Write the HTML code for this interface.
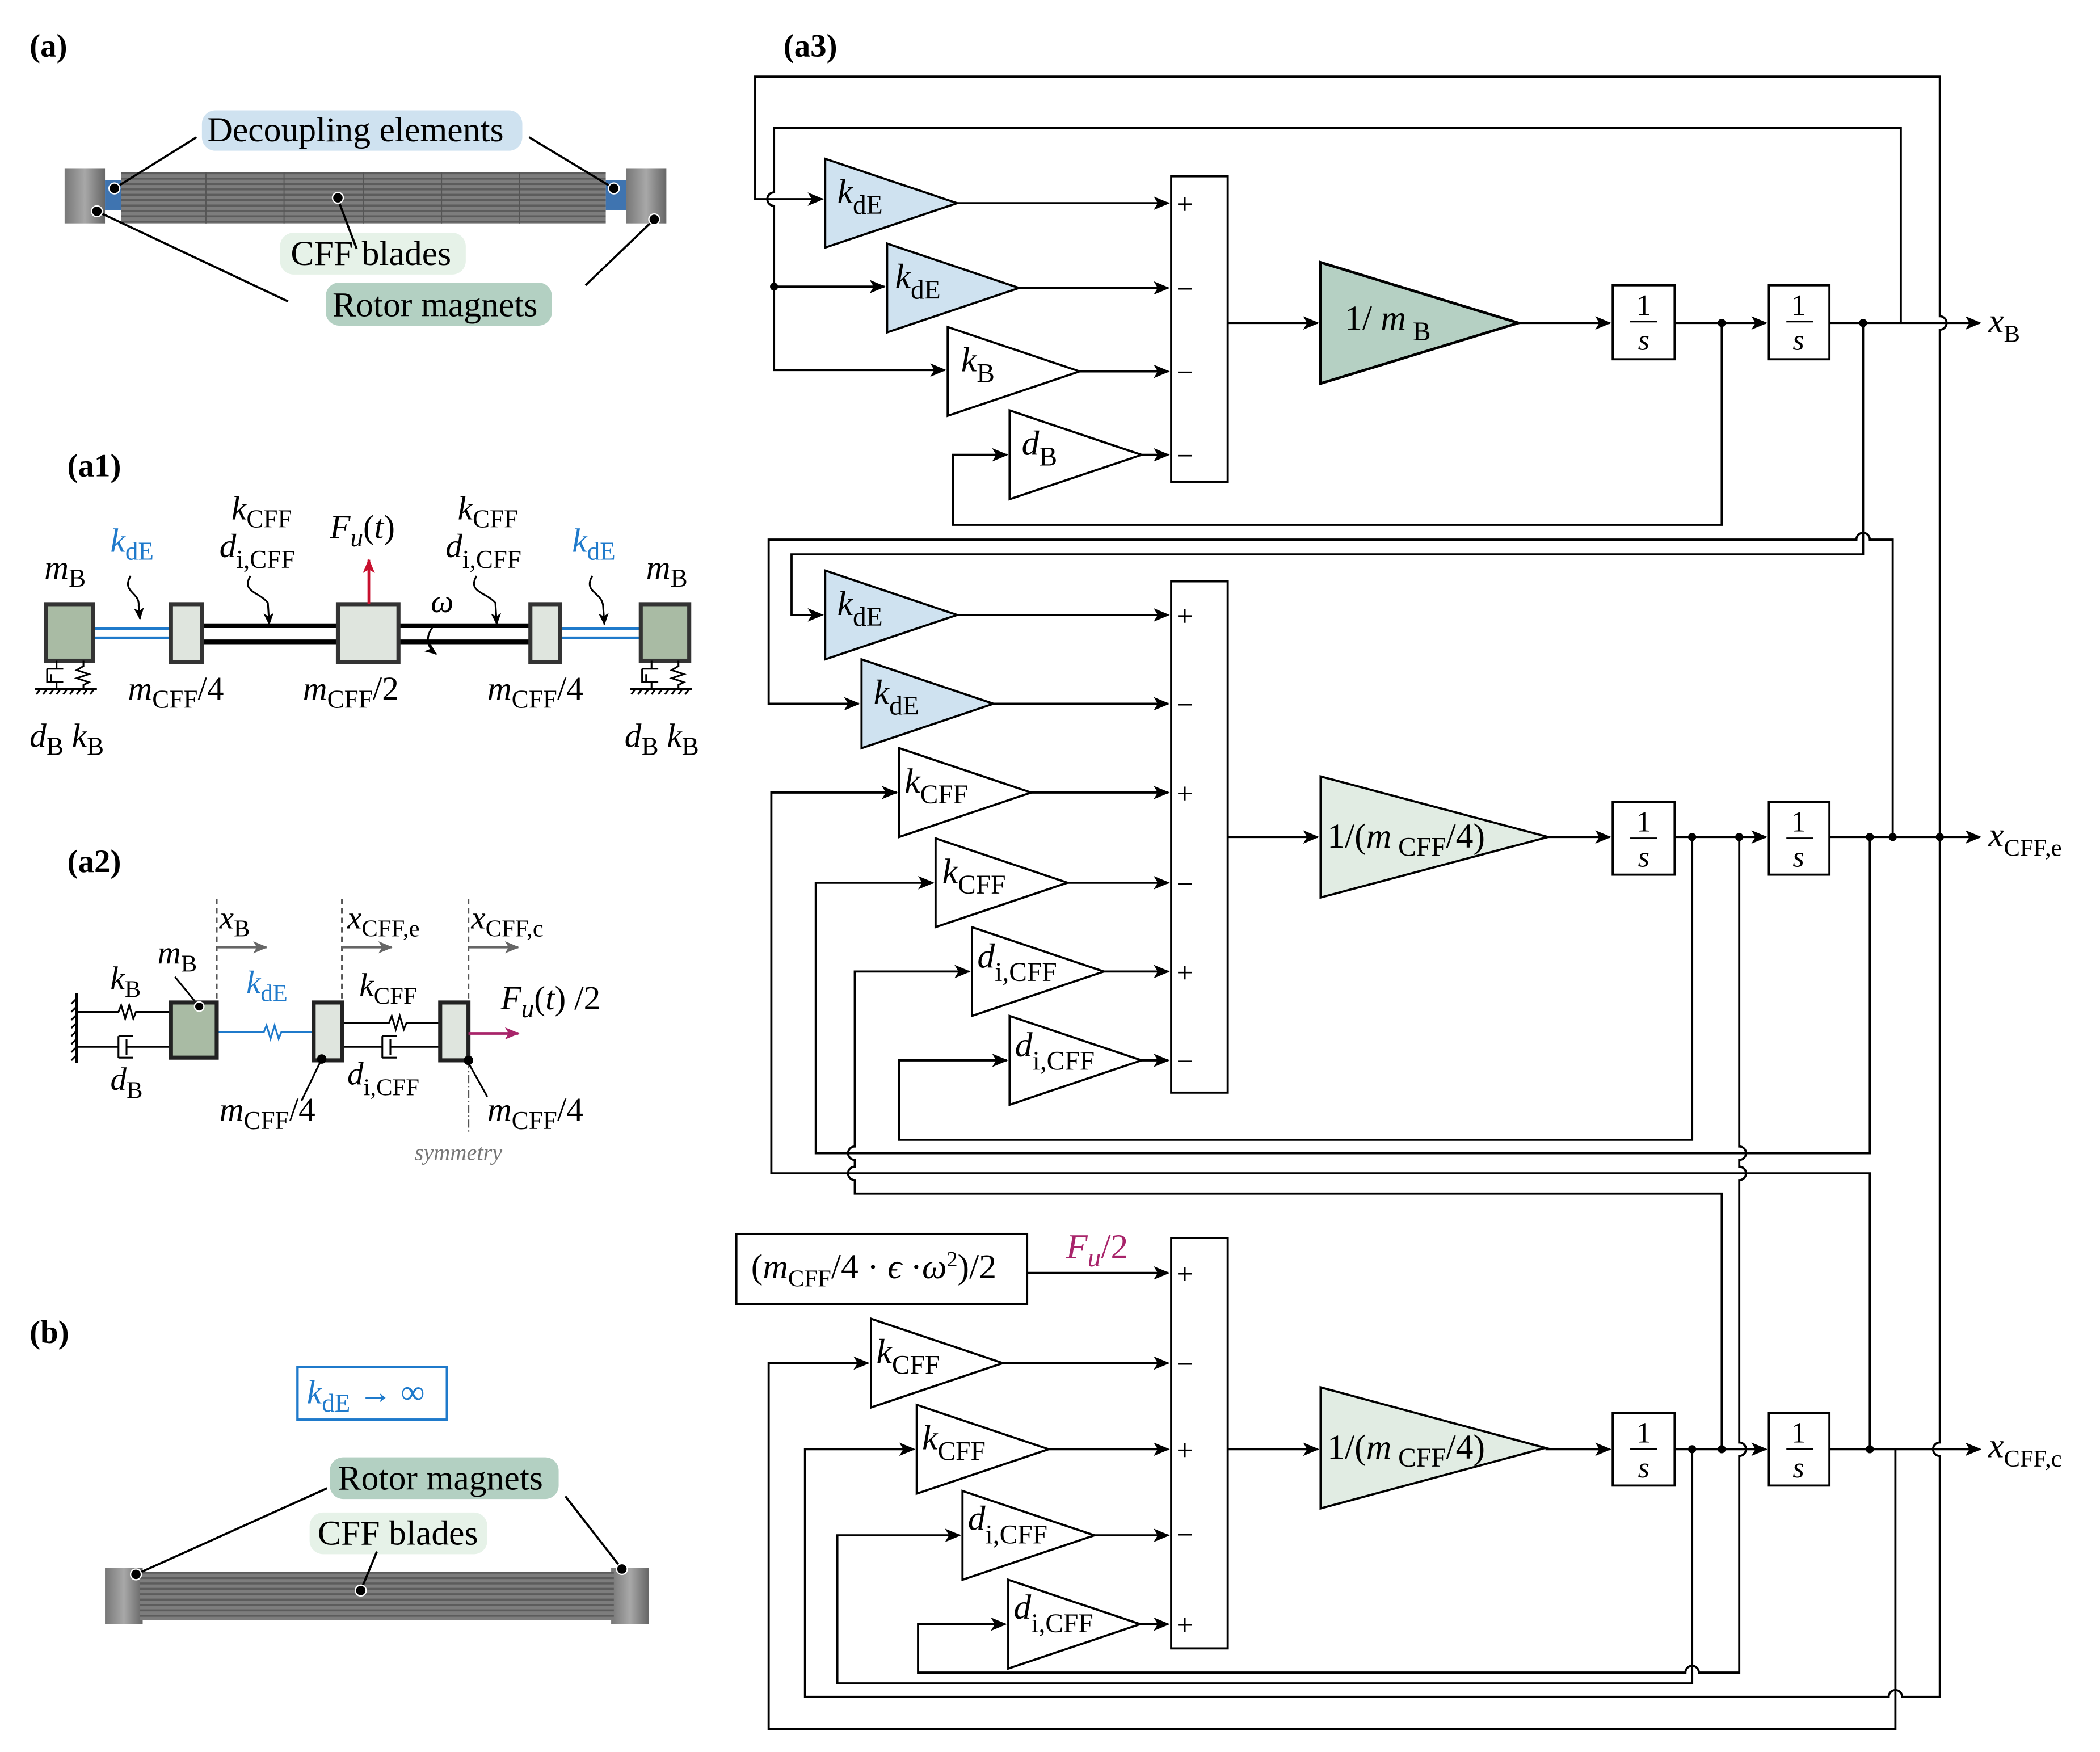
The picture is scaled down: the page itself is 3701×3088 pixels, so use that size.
<!DOCTYPE html>
<html><head><meta charset="utf-8"><style>
html,body{margin:0;padding:0;background:#fff}
svg{display:block}
text{font-family:"Liberation Serif",serif;fill:#000}
.i{font-style:italic}
.b{font-weight:bold}
.s{font-style:normal}
</style></head><body>
<svg width="3701" height="3088" viewBox="0 0 1560 1302" preserveAspectRatio="none" xmlns="http://www.w3.org/2000/svg">
<defs>
<marker id="ar" viewBox="0 0 12 10" refX="11" refY="5" markerWidth="12" markerHeight="10" markerUnits="userSpaceOnUse" orient="auto"><path d="M0,0 L12,5 L0,10 L3,5 z" fill="#000"/></marker>
<marker id="ag" viewBox="0 0 12 10" refX="11" refY="5" markerWidth="11" markerHeight="9" markerUnits="userSpaceOnUse" orient="auto"><path d="M0,0 L12,5 L0,10 L3,5 z" fill="#666"/></marker>
<marker id="arr" viewBox="0 0 12 10" refX="11" refY="5" markerWidth="11" markerHeight="9" markerUnits="userSpaceOnUse" orient="auto"><path d="M0,0 L12,5 L0,10 L3,5 z" fill="#c8102e"/></marker>
<marker id="arm" viewBox="0 0 12 10" refX="11" refY="5" markerWidth="11" markerHeight="9" markerUnits="userSpaceOnUse" orient="auto"><path d="M0,0 L12,5 L0,10 L3,5 z" fill="#a8246a"/></marker>
<marker id="as" viewBox="0 0 12 10" refX="11" refY="5" markerWidth="9" markerHeight="8" markerUnits="userSpaceOnUse" orient="auto"><path d="M0,0 L12,5 L0,10 L3,5 z" fill="#000"/></marker>
<linearGradient id="cap" x1="0" y1="0" x2="1" y2="0"><stop offset="0" stop-color="#777"/><stop offset="0.5" stop-color="#a8a8a8"/><stop offset="1" stop-color="#666"/></linearGradient>
<pattern id="str" width="6" height="4" patternUnits="userSpaceOnUse"><rect width="6" height="4" fill="#7d7d7d"/><rect y="0" width="6" height="1.5" fill="#5c5c5c"/></pattern>
</defs>

<!-- ===== (a) ===== -->
<text x="22" y="42" class="b" font-size="24">(a)</text>
<rect x="48" y="125" width="30" height="41" fill="url(#cap)"/>
<rect x="465" y="125" width="30" height="41" fill="url(#cap)"/>
<rect x="78" y="134" width="14" height="22" fill="#3f74b0"/>
<rect x="450" y="134" width="15" height="22" fill="#3f74b0"/>
<rect x="90" y="128" width="360" height="38" fill="url(#str)"/>
<g stroke="#555" stroke-width="0.8"><line x1="153" y1="128" x2="153" y2="166"/><line x1="211" y1="128" x2="211" y2="166"/><line x1="270" y1="128" x2="270" y2="166"/><line x1="328" y1="128" x2="328" y2="166"/><line x1="386" y1="128" x2="386" y2="166"/></g>
<rect x="150" y="82" width="238" height="30" rx="10" fill="#cfe2f0"/>
<text x="154" y="105" font-size="26">Decoupling elements</text>
<rect x="208" y="173" width="138" height="31" rx="10" fill="#e6f2e8"/>
<text x="216" y="197" font-size="26">CFF blades</text>
<rect x="242" y="210" width="168" height="32" rx="10" fill="#b3d0c2"/>
<text x="247" y="235" font-size="26">Rotor magnets</text>
<g stroke="#000" stroke-width="1.6"><line x1="85" y1="140" x2="146" y2="102"/><line x1="456" y1="140" x2="393" y2="102"/><line x1="251" y1="148" x2="265" y2="185"/><line x1="72" y1="157" x2="214" y2="224"/><line x1="486" y1="163" x2="435" y2="212"/></g>
<g fill="#000" stroke="#fff" stroke-width="1"><circle cx="85" cy="140" r="4"/><circle cx="456" cy="140" r="4"/><circle cx="251" cy="147" r="4"/><circle cx="72" cy="157" r="4"/><circle cx="486" cy="163" r="4"/></g>

<!-- ===== (a1) ===== -->
<text x="50" y="354" class="b" font-size="24">(a1)</text>
<g stroke="#1f7acb" stroke-width="2"><line x1="69" y1="467" x2="127" y2="467"/><line x1="69" y1="474" x2="127" y2="474"/><line x1="416" y1="467" x2="476" y2="467"/><line x1="416" y1="474" x2="476" y2="474"/></g>
<g stroke="#000" stroke-width="3.5"><line x1="150" y1="465" x2="251" y2="465"/><line x1="150" y1="477" x2="251" y2="477"/><line x1="296" y1="465" x2="394" y2="465"/><line x1="296" y1="477" x2="394" y2="477"/></g>
<g stroke="#333" stroke-width="3"><rect x="34" y="449" width="35" height="42" fill="#a9bba4"/><rect x="476" y="449" width="36" height="42" fill="#a9bba4"/><rect x="127" y="449" width="23" height="43" fill="#dfe5de"/><rect x="251" y="449" width="45" height="43" fill="#dfe5de"/><rect x="394" y="449" width="22" height="43" fill="#dfe5de"/></g>
<line x1="274" y1="449" x2="274" y2="416" stroke="#c8102e" stroke-width="2" marker-end="url(#arr)"/>
<g stroke="#000" stroke-width="1.3" fill="none">
<path d="M42,491 V497 M35,497 H47 M35,497 V507 H47 M38,501 V507 M42,507 V512"/>
<path d="M62,491 V495 L57,498 L66,501 L57,504 L66,507 L62,509 V512"/>
<path d="M484,491 V497 M477,497 H489 M477,497 V507 H489 M480,501 V507 M484,507 V512"/>
<path d="M504,491 V495 L499,498 L508,501 L499,504 L508,507 L504,509 V512"/>
<line x1="26" y1="512" x2="72" y2="512" stroke-width="2"/><line x1="468" y1="512" x2="514" y2="512" stroke-width="2"/>
<path d="M30,512 l-3,4 M35,512 l-3,4 M40,512 l-3,4 M45,512 l-3,4 M50,512 l-3,4 M55,512 l-3,4 M60,512 l-3,4 M65,512 l-3,4 M70,512 l-3,4 M472,512 l-3,4 M477,512 l-3,4 M482,512 l-3,4 M487,512 l-3,4 M492,512 l-3,4 M497,512 l-3,4 M502,512 l-3,4 M507,512 l-3,4 M512,512 l-3,4"/>
<path d="M97,428 C90,440 104,440 103,450 L104,460" marker-end="url(#as)"/>
<path d="M186,428 C179,440 193,440 199,448 L200,464" marker-end="url(#as)"/>
<path d="M354,428 C347,440 361,440 368,448 L369,464" marker-end="url(#as)"/>
<path d="M440,428 C433,440 447,440 448,450 L449,464" marker-end="url(#as)"/>
<path d="M323,464 C316,472 316,480 324,486" marker-end="url(#as)"/>
</g>
<text x="33" y="430" class="i" font-size="25">m<tspan class="s" font-size="19" dy="6">B</tspan></text>
<text x="82" y="410" class="i" font-size="25" style="fill:#1f7acb">k<tspan class="s" font-size="19" dy="6" style="fill:#1f7acb">dE</tspan></text>
<text x="172" y="386" class="i" font-size="25">k<tspan class="s" font-size="19" dy="6">CFF</tspan></text>
<text x="163" y="414" class="i" font-size="25">d<tspan class="s" font-size="19" dy="8">i,CFF</tspan></text>
<text x="245" y="400" class="i" font-size="25">F<tspan font-size="19" dy="6">u</tspan><tspan class="s" dy="-6">(</tspan>t<tspan class="s">)</tspan></text>
<text x="340" y="386" class="i" font-size="25">k<tspan class="s" font-size="19" dy="6">CFF</tspan></text>
<text x="331" y="414" class="i" font-size="25">d<tspan class="s" font-size="19" dy="8">i,CFF</tspan></text>
<text x="320" y="455" class="i" font-size="24">ω</text>
<text x="425" y="410" class="i" font-size="25" style="fill:#1f7acb">k<tspan class="s" font-size="19" dy="6" style="fill:#1f7acb">dE</tspan></text>
<text x="480" y="430" class="i" font-size="25">m<tspan class="s" font-size="19" dy="6">B</tspan></text>
<text x="95" y="520" class="i" font-size="25">m<tspan class="s" font-size="19" dy="6">CFF</tspan><tspan class="s" dy="-6">/4</tspan></text>
<text x="225" y="520" class="i" font-size="25">m<tspan class="s" font-size="19" dy="6">CFF</tspan><tspan class="s" dy="-6">/2</tspan></text>
<text x="362" y="520" class="i" font-size="25">m<tspan class="s" font-size="19" dy="6">CFF</tspan><tspan class="s" dy="-6">/4</tspan></text>
<text x="22" y="555" class="i" font-size="25">d<tspan class="s" font-size="19" dy="6">B</tspan><tspan dy="-6"> k</tspan><tspan class="s" font-size="19" dy="6">B</tspan></text>
<text x="464" y="555" class="i" font-size="25">d<tspan class="s" font-size="19" dy="6">B</tspan><tspan dy="-6"> k</tspan><tspan class="s" font-size="19" dy="6">B</tspan></text>

<!-- ===== (a2) ===== -->
<text x="50" y="648" class="b" font-size="24">(a2)</text>
<g stroke="#000" stroke-width="1.3" fill="none">
<line x1="57" y1="738" x2="57" y2="790" stroke-width="2"/>
<path d="M57,742 l-4,4 M57,748 l-4,4 M57,754 l-4,4 M57,760 l-4,4 M57,766 l-4,4 M57,772 l-4,4 M57,778 l-4,4 M57,784 l-4,4"/>
<path d="M57,752 H88 l2,-5 l3,10 l3,-10 l3,10 l2,-5 H127"/>
<path d="M57,778 H88 M88,770 V786 M88,770 H99 M88,786 H99 M94,772 V784 M94,778 H127"/>
<path d="M254,760 H289 l2,-5 l3,10 l3,-10 l3,10 l2,-5 H327"/>
<path d="M254,778 H284 M284,770 V786 M284,770 H295 M284,786 H295 M290,772 V784 M290,778 H327"/>
<path d="M161,767 H196 l2,-5 l3,10 l3,-10 l3,10 l2,-5 H233" stroke="#1f7acb"/>
<g stroke="#555" stroke-dasharray="4,3"><line x1="161" y1="668" x2="161" y2="745"/><line x1="254" y1="668" x2="254" y2="745"/><line x1="348" y1="668" x2="348" y2="745"/></g>
<line x1="348" y1="788" x2="348" y2="842" stroke="#555" stroke-dasharray="6,2,1,2"/>
<g stroke="#666" stroke-width="1.6"><line x1="161" y1="704" x2="198" y2="704" marker-end="url(#ag)"/><line x1="254" y1="704" x2="291" y2="704" marker-end="url(#ag)"/><line x1="348" y1="704" x2="385" y2="704" marker-end="url(#ag)"/></g>
<path d="M130,726 L148,748"/><path d="M239,787 L224,818"/><path d="M348,790 L362,815"/>
</g>
<g stroke="#222" stroke-width="3"><rect x="127" y="745" width="34" height="41" fill="#a9bba4"/><rect x="233" y="745" width="21" height="43" fill="#dfe5de"/><rect x="327" y="745" width="21" height="43" fill="#dfe5de"/></g>
<line x1="348" y1="768" x2="385" y2="768" stroke="#a8246a" stroke-width="2" marker-end="url(#arm)"/>
<g fill="#000"><circle cx="148" cy="748" r="3.5" stroke="#fff"/><circle cx="239" cy="787" r="3.5"/><circle cx="348" cy="788" r="3.5"/></g>
<text x="163" y="690" class="i" font-size="24">x<tspan class="s" font-size="18" dy="6">B</tspan></text>
<text x="258" y="690" class="i" font-size="24">x<tspan class="s" font-size="18" dy="6">CFF,e</tspan></text>
<text x="350" y="690" class="i" font-size="24">x<tspan class="s" font-size="18" dy="6">CFF,c</tspan></text>
<text x="117" y="716" class="i" font-size="24">m<tspan class="s" font-size="18" dy="6">B</tspan></text>
<text x="82" y="735" class="i" font-size="24">k<tspan class="s" font-size="18" dy="6">B</tspan></text>
<text x="183" y="738" class="i" font-size="24" style="fill:#1f7acb">k<tspan class="s" font-size="18" dy="6" style="fill:#1f7acb">dE</tspan></text>
<text x="267" y="740" class="i" font-size="24">k<tspan class="s" font-size="18" dy="6">CFF</tspan></text>
<text x="372" y="750" class="i" font-size="25">F<tspan font-size="19" dy="6">u</tspan><tspan class="s" dy="-6">(</tspan>t<tspan class="s">) /2</tspan></text>
<text x="82" y="810" class="i" font-size="24">d<tspan class="s" font-size="18" dy="6">B</tspan></text>
<text x="258" y="806" class="i" font-size="24">d<tspan class="s" font-size="18" dy="8">i,CFF</tspan></text>
<text x="163" y="833" class="i" font-size="25">m<tspan class="s" font-size="19" dy="6">CFF</tspan><tspan class="s" dy="-6">/4</tspan></text>
<text x="362" y="833" class="i" font-size="25">m<tspan class="s" font-size="19" dy="6">CFF</tspan><tspan class="s" dy="-6">/4</tspan></text>
<text x="308" y="862" class="i" font-size="17" style="fill:#777">symmetry</text>

<!-- ===== (b) ===== -->
<text x="22" y="998" class="b" font-size="24">(b)</text>
<rect x="221" y="1016" width="111" height="39" fill="none" stroke="#1f7acb" stroke-width="1.8"/>
<text x="228" y="1043" class="i" font-size="25" style="fill:#1f7acb">k<tspan class="s" font-size="19" dy="6" style="fill:#1f7acb">dE</tspan><tspan class="s" dy="-6" style="fill:#1f7acb"> → ∞</tspan></text>
<rect x="78" y="1165" width="28" height="42" fill="url(#cap)"/>
<rect x="454" y="1165" width="28" height="42" fill="url(#cap)"/>
<rect x="104" y="1168" width="352" height="36" fill="url(#str)"/>
<rect x="245" y="1083" width="170" height="31" rx="10" fill="#b3d0c2"/>
<text x="251" y="1107" font-size="26">Rotor magnets</text>
<rect x="230" y="1124" width="132" height="31" rx="10" fill="#e6f2e8"/>
<text x="236" y="1148" font-size="26">CFF blades</text>
<g stroke="#000" stroke-width="1.6"><line x1="101" y1="1170" x2="243" y2="1106"/><line x1="462" y1="1166" x2="420" y2="1112"/><line x1="268" y1="1182" x2="280" y2="1153"/></g>
<g fill="#000" stroke="#fff"><circle cx="101" cy="1170" r="4"/><circle cx="462" cy="1166" r="4"/><circle cx="268" cy="1182" r="4"/></g>

<!-- ===== (a3) ===== -->
<text x="582" y="42" class="b" font-size="24">(a3)</text>
<g transform="translate(-5,0)">
<g stroke="#000" stroke-width="1.6" fill="none">
<path d="M1446,622 V245 a5 5 0 0 0 0 -10 V57 H566 V148 H616" marker-end="url(#ar)"/>
<path d="M1417,240 V95 H580 V143 a5 5 0 0 0 0 10 V275 H707" marker-end="url(#ar)"/>
<path d="M580,213 H662" marker-end="url(#ar)"/>
<path d="M716,151 H873" marker-end="url(#ar)"/><path d="M762,214 H873" marker-end="url(#ar)"/><path d="M807,276 H873" marker-end="url(#ar)"/><path d="M853,338 H873" marker-end="url(#ar)"/>
<path d="M917,240 H984" marker-end="url(#ar)"/><path d="M1133,240 H1201" marker-end="url(#ar)"/><path d="M1249,240 H1317" marker-end="url(#ar)"/>
<path d="M1364,240 H1476" marker-end="url(#ar)"/>
<path d="M1284,240 V390 H713 V338 H753" marker-end="url(#ar)"/>
<path d="M1389,240 V412 H593 V457 H616" marker-end="url(#ar)"/>
<path d="M1411,622 V401 H1394 a5 5 0 0 0 -10 0 H576 V523 H643" marker-end="url(#ar)"/>
<path d="M716,457 H873" marker-end="url(#ar)"/><path d="M743,523 H873" marker-end="url(#ar)"/><path d="M771,589 H873" marker-end="url(#ar)"/><path d="M798,656 H873" marker-end="url(#ar)"/><path d="M825,722 H873" marker-end="url(#ar)"/><path d="M853,788 H873" marker-end="url(#ar)"/>
<path d="M917,622 H984" marker-end="url(#ar)"/><path d="M1155,622 H1201" marker-end="url(#ar)"/><path d="M1249,622 H1317" marker-end="url(#ar)"/><path d="M1364,622 H1476" marker-end="url(#ar)"/>
<path d="M1262,622 V847 H673 V788 H753" marker-end="url(#ar)"/>
<path d="M1394,622 V857 H611 V656 H698" marker-end="url(#ar)"/>
<path d="M1394,1077 V872 H578 V589 H671" marker-end="url(#ar)"/>
<path d="M1284,1077 V887 H640 V877 a5 5 0 0 1 0 -10 V862 a5 5 0 0 1 0 -10 V722 H725" marker-end="url(#ar)"/>
<path d="M768,946 H873" marker-end="url(#ar)"/>
<path d="M750,1013 H873" marker-end="url(#ar)"/><path d="M784,1077 H873" marker-end="url(#ar)"/><path d="M818,1141 H873" marker-end="url(#ar)"/><path d="M852,1207 H873" marker-end="url(#ar)"/>
<path d="M917,1077 H984" marker-end="url(#ar)"/><path d="M1153,1077 H1201" marker-end="url(#ar)"/><path d="M1249,1077 H1317" marker-end="url(#ar)"/><path d="M1364,1077 H1476" marker-end="url(#ar)"/>
<path d="M1297,622 V852 a5 5 0 0 1 0 10 V867 a5 5 0 0 1 0 10 V1072 a5 5 0 0 1 0 10 V1243 H1267 a5 5 0 0 0 -10 0 H687 V1207 H752" marker-end="url(#ar)"/>
<path d="M1446,622 V1072 a5 5 0 0 0 0 10 V1261 H1418 a5 5 0 0 0 -10 0 H603 V1077 H684" marker-end="url(#ar)"/>
<path d="M1262,1077 V1251 H627 V1141 H718" marker-end="url(#ar)"/>
<path d="M1413,1077 V1285 H576 V1013 H650" marker-end="url(#ar)"/>
</g>
<g fill="#000"><circle cx="580" cy="213" r="3"/><circle cx="1284" cy="240" r="3"/><circle cx="1389" cy="240" r="3"/><circle cx="1262" cy="622" r="3"/><circle cx="1297" cy="622" r="3"/><circle cx="1394" cy="622" r="3"/><circle cx="1411" cy="622" r="3"/><circle cx="1446" cy="622" r="3"/><circle cx="1262" cy="1077" r="3"/><circle cx="1284" cy="1077" r="3"/><circle cx="1394" cy="1077" r="3"/></g>
<g stroke="#000" stroke-width="1.6">
<path d="M618,118 L618,184 L716,151 z" fill="#cfe2f0"/>
<path d="M664,181 L664,247 L762,214 z" fill="#cfe2f0"/>
<path d="M709,243 L709,309 L807,276 z" fill="#fff"/>
<path d="M755,305 L755,371 L853,338 z" fill="#fff"/>
<path d="M986,195 L986,285 L1133,240 z" fill="#b5d0c3" stroke-width="2"/>
<path d="M618,424 L618,490 L716,457 z" fill="#cfe2f0"/>
<path d="M645,490 L645,556 L743,523 z" fill="#cfe2f0"/>
<path d="M673,556 L673,622 L771,589 z" fill="#fff"/>
<path d="M700,623 L700,689 L798,656 z" fill="#fff"/>
<path d="M727,689 L727,755 L825,722 z" fill="#fff"/>
<path d="M755,755 L755,821 L853,788 z" fill="#fff"/>
<path d="M986,577 L986,667 L1155,622 z" fill="#e1ece3"/>
<path d="M652,980 L652,1046 L750,1013 z" fill="#fff"/>
<path d="M686,1044 L686,1110 L784,1077 z" fill="#fff"/>
<path d="M720,1108 L720,1174 L818,1141 z" fill="#fff"/>
<path d="M754,1174 L754,1240 L852,1207 z" fill="#fff"/>
<path d="M986,1031 L986,1121 L1153,1076 z" fill="#e1ece3"/>
<rect x="875" y="131" width="42" height="227" fill="#fff"/>
<rect x="875" y="432" width="42" height="380" fill="#fff"/>
<rect x="875" y="920" width="42" height="305" fill="#fff"/>
<rect x="552" y="917" width="216" height="52" fill="#fff"/>
<rect x="1203" y="212" width="46" height="55" fill="#fff"/><rect x="1319" y="212" width="45" height="55" fill="#fff"/>
<rect x="1203" y="596" width="46" height="54" fill="#fff"/><rect x="1319" y="596" width="45" height="54" fill="#fff"/>
<rect x="1203" y="1050" width="46" height="54" fill="#fff"/><rect x="1319" y="1050" width="45" height="54" fill="#fff"/>
</g>
<g stroke="#000" stroke-width="1.2">
<line x1="1216" y1="239" x2="1236" y2="239"/><line x1="1332" y1="239" x2="1352" y2="239"/>
<line x1="1216" y1="623" x2="1236" y2="623"/><line x1="1332" y1="623" x2="1352" y2="623"/>
<line x1="1216" y1="1077" x2="1236" y2="1077"/><line x1="1332" y1="1077" x2="1352" y2="1077"/>
</g>
<g font-size="22" text-anchor="middle">
<text x="1226" y="234">1</text><text x="1226" y="260" class="i">s</text><text x="1341" y="234">1</text><text x="1341" y="260" class="i">s</text>
<text x="1226" y="618">1</text><text x="1226" y="644" class="i">s</text><text x="1341" y="618">1</text><text x="1341" y="644" class="i">s</text>
<text x="1226" y="1072">1</text><text x="1226" y="1098" class="i">s</text><text x="1341" y="1072">1</text><text x="1341" y="1098" class="i">s</text>
</g>
<g font-size="22">
<text x="879" y="159">+</text><text x="879" y="222">−</text><text x="879" y="284">−</text><text x="879" y="346">−</text>
<text x="879" y="465">+</text><text x="879" y="531">−</text><text x="879" y="597">+</text><text x="879" y="664">−</text><text x="879" y="730">+</text><text x="879" y="796">−</text>
<text x="879" y="954">+</text><text x="879" y="1021">−</text><text x="879" y="1085">+</text><text x="879" y="1148">−</text><text x="879" y="1215">+</text>
</g>
<g font-size="26" class="i">
<text x="627" y="151" class="i">k<tspan class="s" font-size="20" dy="8">dE</tspan></text>
<text x="670" y="214" class="i">k<tspan class="s" font-size="20" dy="8">dE</tspan></text>
<text x="719" y="276" class="i">k<tspan class="s" font-size="20" dy="8">B</tspan></text>
<text x="764" y="338" class="i">d<tspan class="s" font-size="20" dy="8">B</tspan></text>
<text x="1004" y="245"><tspan class="s">1/ </tspan>m<tspan class="s" font-size="20" dy="8"> B</tspan></text>
<text x="627" y="457" class="i">k<tspan class="s" font-size="20" dy="8">dE</tspan></text>
<text x="654" y="523" class="i">k<tspan class="s" font-size="20" dy="8">dE</tspan></text>
<text x="677" y="589" class="i">k<tspan class="s" font-size="20" dy="8">CFF</tspan></text>
<text x="705" y="656" class="i">k<tspan class="s" font-size="20" dy="8">CFF</tspan></text>
<text x="731" y="719" class="i">d<tspan class="s" font-size="20" dy="10">i,CFF</tspan></text>
<text x="759" y="785" class="i">d<tspan class="s" font-size="20" dy="10">i,CFF</tspan></text>
<text x="991" y="630"><tspan class="s">1/(</tspan>m<tspan class="s" font-size="20" dy="6"> CFF</tspan><tspan class="s" dy="-6">/4)</tspan></text>
<text x="656" y="1013" class="i">k<tspan class="s" font-size="20" dy="8">CFF</tspan></text>
<text x="690" y="1077" class="i">k<tspan class="s" font-size="20" dy="8">CFF</tspan></text>
<text x="724" y="1137" class="i">d<tspan class="s" font-size="20" dy="10">i,CFF</tspan></text>
<text x="758" y="1203" class="i">d<tspan class="s" font-size="20" dy="10">i,CFF</tspan></text>
<text x="991" y="1084"><tspan class="s">1/(</tspan>m<tspan class="s" font-size="20" dy="6"> CFF</tspan><tspan class="s" dy="-6">/4)</tspan></text>
<text x="563" y="950"><tspan class="s">(</tspan>m<tspan class="s" font-size="18" dy="6">CFF</tspan><tspan class="s" dy="-6">/4 · </tspan>ϵ<tspan class="s"> ·</tspan>ω<tspan class="s" font-size="16" dy="-9">2</tspan><tspan class="s" dy="9">)/2</tspan></text>
<text x="797" y="935" style="fill:#a8246a">F<tspan font-size="20" dy="6" style="fill:#a8246a">u</tspan><tspan class="s" dy="-6">/2</tspan></text>
<text x="1482" y="247">x<tspan class="s" font-size="18" dy="7">B</tspan></text>
<text x="1482" y="629">x<tspan class="s" font-size="18" dy="7">CFF,e</tspan></text>
<text x="1482" y="1083">x<tspan class="s" font-size="18" dy="7">CFF,c</tspan></text>
</g>
</g>
</svg>
</body></html>
